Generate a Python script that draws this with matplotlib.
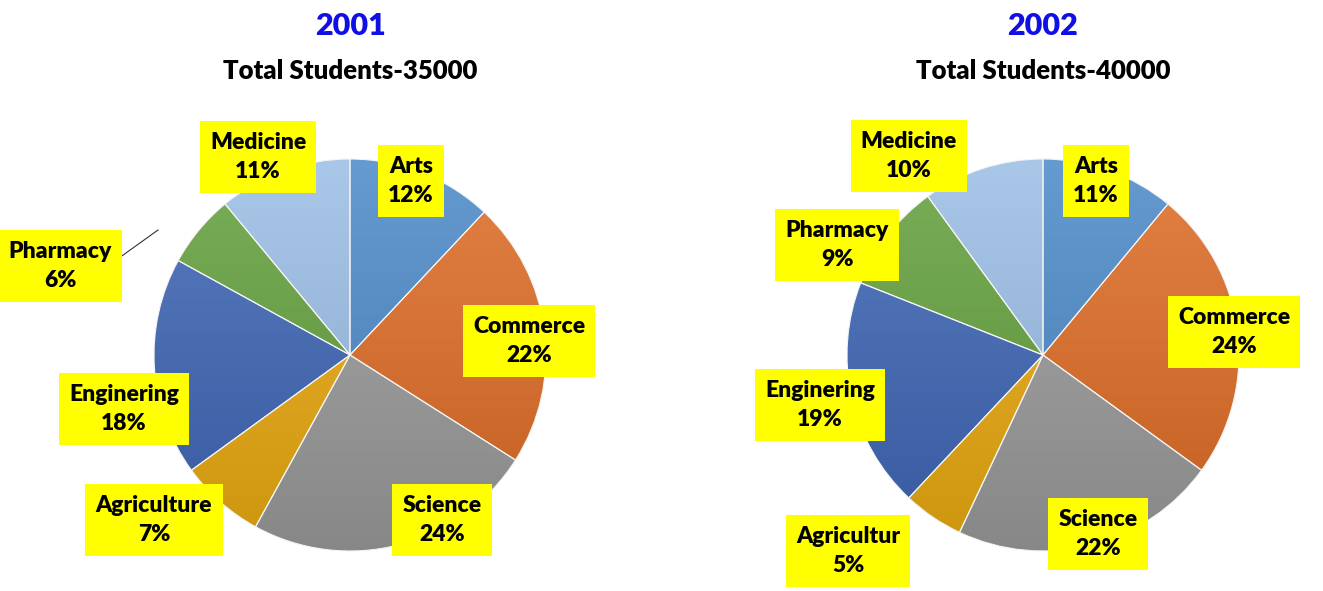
import numpy as np
import matplotlib
matplotlib.use("Agg")
import matplotlib.pyplot as plt
from matplotlib.colors import LinearSegmentedColormap, to_rgb

plt.rcParams['font.family'] = ['Lato', 'DejaVu Sans']

# ---- data ----
categories_2001 = ["Arts", "Commerce", "Science", "Agriculture", "Enginering", "Pharmacy", "Medicine"]
values_2001 = [12, 22, 24, 7, 18, 6, 11]
categories_2002 = ["Arts", "Commerce", "Science", "Agricultur", "Enginering", "Pharmacy", "Medicine"]
values_2002 = [11, 24, 22, 5, 19, 9, 10]
years = ["2001", "2002"]
subtitles = ["Total Students-35000", "Total Students-40000"]

# ---- style ----
colors = ['#4a89c8', '#de6b24', '#9a9a9a', '#eaa90f', '#3d65b5', '#63a03c', '#9abde5']

W, H = 1323, 591
R = 196.0
centers = [(350, 355), (1043, 355)]
# label box centres (pixel coords, top-left origin)
label_pos = [
    [(411, 181), (529, 341), (442, 520), (154, 520), (124, 409), (60, 266), (258, 157)],
    [(1096, 181), (1234, 332), (1098, 534), (848, 551), (820, 405), (837, 245), (909, 156)],
]

fig = plt.figure(figsize=(W / 100, H / 100), dpi=100)
fig.patch.set_facecolor('white')


def mix(c, t, amount):
    c = np.array(to_rgb(c)); t = np.array(to_rgb(t))
    return tuple(c + (t - c) * amount)


def to_data(px, py, cx, cy):
    return (px - cx) / R, (cy - py) / R


datasets = [(categories_2001, values_2001), (categories_2002, values_2002)]
for k, ((cats, vals), (cx, cy)) in enumerate(zip(datasets, centers)):
    ax = fig.add_axes([(cx - R) / W, (H - cy - R) / H, 2 * R / W, 2 * R / H])
    wedges, _ = ax.pie(vals, startangle=90, counterclock=False, radius=1,
                       wedgeprops=dict(linewidth=0.8, edgecolor='#f4f4f4'))
    grad = np.linspace(0, 1, 256)[:, None]
    for w, c in zip(wedges, colors):
        cmap = LinearSegmentedColormap.from_list('g', [mix(c, 'white', 0.15), mix(c, 'black', 0.12)])
        im = ax.imshow(grad, extent=(-1, 1, -1, 1), origin='upper', cmap=cmap,
                       aspect='auto', zorder=0.5, interpolation='bilinear')
        im.set_clip_path(w)
        w.set_facecolor('none')
        w.set_zorder(1)
    ax.set_xlim(-1, 1)
    ax.set_ylim(-1, 1)
    ax.set_aspect('auto')
    ax.axis('off')

    for cat, v, (px, py) in zip(cats, vals, label_pos[k]):
        x, y = to_data(px, py, cx, cy)
        ax.text(x, y, f"{cat}\n{v}%", ha='center', va='center', fontsize=16.5,
                fontweight='heavy', color='black', linespacing=1.5, zorder=5, clip_on=False,
                bbox=dict(boxstyle='square,pad=0.45', facecolor='#ffff00', edgecolor='none'))

    if k == 0:
        x0, y0 = to_data(113, 258, cx, cy)
        x1, y1 = to_data(119, 258, cx, cy)
        x2, y2 = to_data(158, 230, cx, cy)
        ax.plot([x0, x1, x2], [y0, y1, y2], color='#333333', lw=0.8, zorder=4, clip_on=False)

    fig.text(cx / W, 1 - 26 / H, years[k], ha='center', va='center', fontsize=22,
             fontweight='heavy', color='#1010e6')
    fig.text(cx / W, 1 - 71 / H, subtitles[k], ha='center', va='center', fontsize=18.5,
             fontweight='heavy', color='black')

fig.savefig('out.png', dpi=100)
